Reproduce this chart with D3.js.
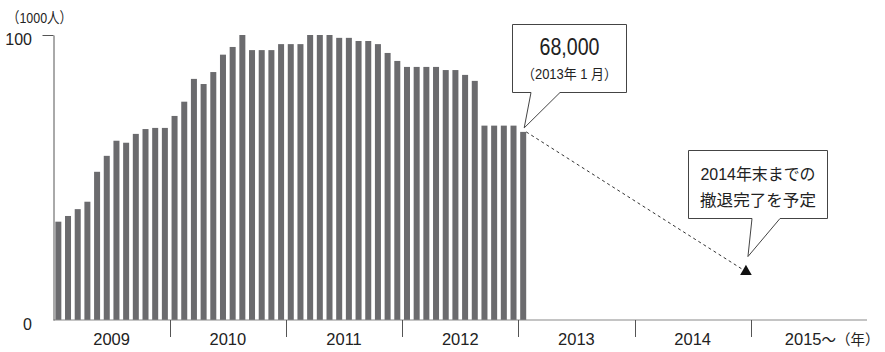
<!DOCTYPE html>
<html>
<head>
<meta charset="utf-8">
<script src="https://cdn.jsdelivr.net/npm/d3@7"></script>
<style>
  body { margin: 0; background: #fff; }
  svg text { font-family: "Liberation Sans", "Noto Sans CJK JP", sans-serif; fill: #222; }
</style>
</head>
<body>
<svg id="chart" width="885" height="352"></svg>
<script>
// --- data ---
const years = ["2009", "2010", "2011", "2012", "2013", "2014", "2015"];
const yearLabels = ["2009", "2010", "2011", "2012", "2013", "2014", "2015～（年）"];
const monthNums = ["01", "02", "03", "04", "05", "06", "07", "08", "09", "10", "11", "12"];
// troops (1000 persons), 2009-01 .. 2013-01
const troops = [
  34.5, 36.5, 38.9, 41.5, 52.0, 57.6, 62.9, 62.2, 65.3, 67.0, 67.4, 67.4,
  71.6, 76.6, 84.6, 82.8, 87.0, 93.1, 95.8, 100, 94.7, 94.7, 94.7, 96.8,
  96.8, 96.8, 100, 100, 100, 99.0, 99.0, 97.9, 97.9, 96.8, 93.7, 90.9,
  88.8, 88.8, 88.8, 88.8, 87.7, 87.7, 86.0, 83.9, 68.2, 68.2, 68.2, 68.2,
  66.0
];
const targetMonth = "2014-12";
const targetValue = 17;
const yTicks = [0, 100];
const unitLabel = "（1000人）";
const callout1 = ["68,000", "（2013年 1 月）"];
const callout2 = ["2014年末までの", "撤退完了を予定"];

const months = [];
years.forEach(y => monthNums.forEach(m => months.push(y + "-" + m)));
const barData = troops.map((v, i) => ({ month: months[i], value: v }));

// --- scales ---
const svg = d3.select("#chart");
const x0 = 53.5, x1 = 867, yBase = 320, yTop = 35;

const xYear = d3.scaleBand().domain(years).range([x0, x1]);
const xMonth = d3.scaleBand().domain(months).range([x0, x1])
  .paddingInner(0.38).paddingOuter(0.19);
const y = d3.scaleLinear().domain([0, 100]).range([yBase, yTop]);

// --- bars ---
svg.selectAll(".bar")
  .data(barData)
  .enter()
  .append("rect")
  .attr("class", "bar")
  .attr("x", d => xMonth(d.month))
  .attr("y", d => y(d.value))
  .attr("width", xMonth.bandwidth())
  .attr("height", d => y(0) - y(d.value))
  .attr("fill", "#6b6b6e");

// --- x axis ---
svg.append("line")
  .attr("x1", x0).attr("x2", x1)
  .attr("y1", yBase).attr("y2", yBase)
  .attr("stroke", "#8a8a8a").attr("stroke-width", 1.2);

svg.selectAll(".ytick-x")
  .data(years.slice(1))
  .enter()
  .append("line")
  .attr("x1", d => Math.round(xYear(d)) + 0.5)
  .attr("x2", d => Math.round(xYear(d)) + 0.5)
  .attr("y1", yBase).attr("y2", yBase + 17)
  .attr("stroke", "#555").attr("stroke-width", 1);

const lastYear = years.length - 1;
svg.selectAll(".year-label")
  .data(years.slice(0, lastYear))
  .enter()
  .append("text")
  .attr("class", "year-label")
  .attr("x", d => xYear(d) + xYear.bandwidth() / 2)
  .attr("y", yBase + 25)
  .attr("text-anchor", "middle")
  .attr("font-size", 16.5)
  .text((d, i) => yearLabels[i]);

// last label: "2015" plus a narrower "～（年）"
const lastText = svg.append("text")
  .attr("x", xYear(years[lastYear]) + 34)
  .attr("y", yBase + 25)
  .attr("font-size", 16.5);
lastText.append("tspan").text(yearLabels[lastYear].slice(0, 4));
lastText.append("tspan")
  .attr("font-size", 14.5)
  .text(yearLabels[lastYear].slice(4));

// --- y axis ---
const yAxis = d3.axisLeft(y)
  .tickValues([100])
  .tickSize(11)
  .tickSizeOuter(0)
  .tickFormat("");
const gy = svg.append("g")
  .attr("transform", `translate(${x0},0)`)
  .call(yAxis);
gy.select(".domain").attr("stroke", "#555");
gy.selectAll(".tick line").attr("stroke", "#555");

svg.selectAll(".ylabel")
  .data(yTicks)
  .enter()
  .append("text")
  .attr("x", 32)
  .attr("y", d => y(d) + 10)
  .attr("text-anchor", "end")
  .attr("font-size", 16)
  .text(d => d);

svg.append("text")
  .attr("x", 7).attr("y", 23)
  .attr("font-size", 15)
  .attr("textLength", 65)
  .attr("lengthAdjust", "spacingAndGlyphs")
  .text(unitLabel);

// --- projection to withdrawal ---
const last = barData[barData.length - 1];
const lx = xMonth(last.month) + xMonth.bandwidth();
const ly = y(last.value);
const tx = xMonth(targetMonth) + xMonth.bandwidth() / 2;
const ty = y(targetValue);

svg.append("line")
  .attr("x1", lx).attr("y1", ly)
  .attr("x2", tx).attr("y2", ty)
  .attr("stroke", "#333")
  .attr("stroke-width", 1)
  .attr("stroke-dasharray", "3,3");

svg.append("path")
  .attr("d", d3.symbol(d3.symbolTriangle, 58)())
  .attr("transform", `translate(${tx},${ty})`)
  .attr("fill", "#111");

// --- callouts ---
function callout(box, tip, base, lines) {
  const p = d3.path();
  p.moveTo(box.x, box.y);
  p.lineTo(box.x + box.w, box.y);
  p.lineTo(box.x + box.w, box.y + box.h);
  p.lineTo(base[1], box.y + box.h);
  p.lineTo(tip[0], tip[1]);
  p.lineTo(base[0], box.y + box.h);
  p.lineTo(box.x, box.y + box.h);
  p.closePath();
  svg.append("path")
    .attr("d", p.toString())
    .attr("fill", "#fff")
    .attr("stroke", "#444")
    .attr("stroke-width", 1);
  lines.forEach(l => {
    svg.append("text")
      .attr("x", box.x + box.w / 2)
      .attr("y", l.y)
      .attr("text-anchor", "middle")
      .attr("font-size", l.size)
      .attr("textLength", l.len)
      .attr("lengthAdjust", "spacingAndGlyphs")
      .text(l.text);
  });
}

callout({ x: 512.5, y: 24.5, w: 114, h: 68 },
  [lx - 2, ly - 4], [531, 560],
  [{ text: callout1[0], y: 55, size: 24, len: 60 },
   { text: callout1[1], y: 79, size: 14, len: 95 }]);

callout({ x: 688.5, y: 150.5, w: 139, h: 68 },
  [tx + 2, ty - 15], [752, 780],
  [{ text: callout2[0], y: 180, size: 16, len: 115 },
   { text: callout2[1], y: 206, size: 16, len: 116 }]);
</script>
</body>
</html>
